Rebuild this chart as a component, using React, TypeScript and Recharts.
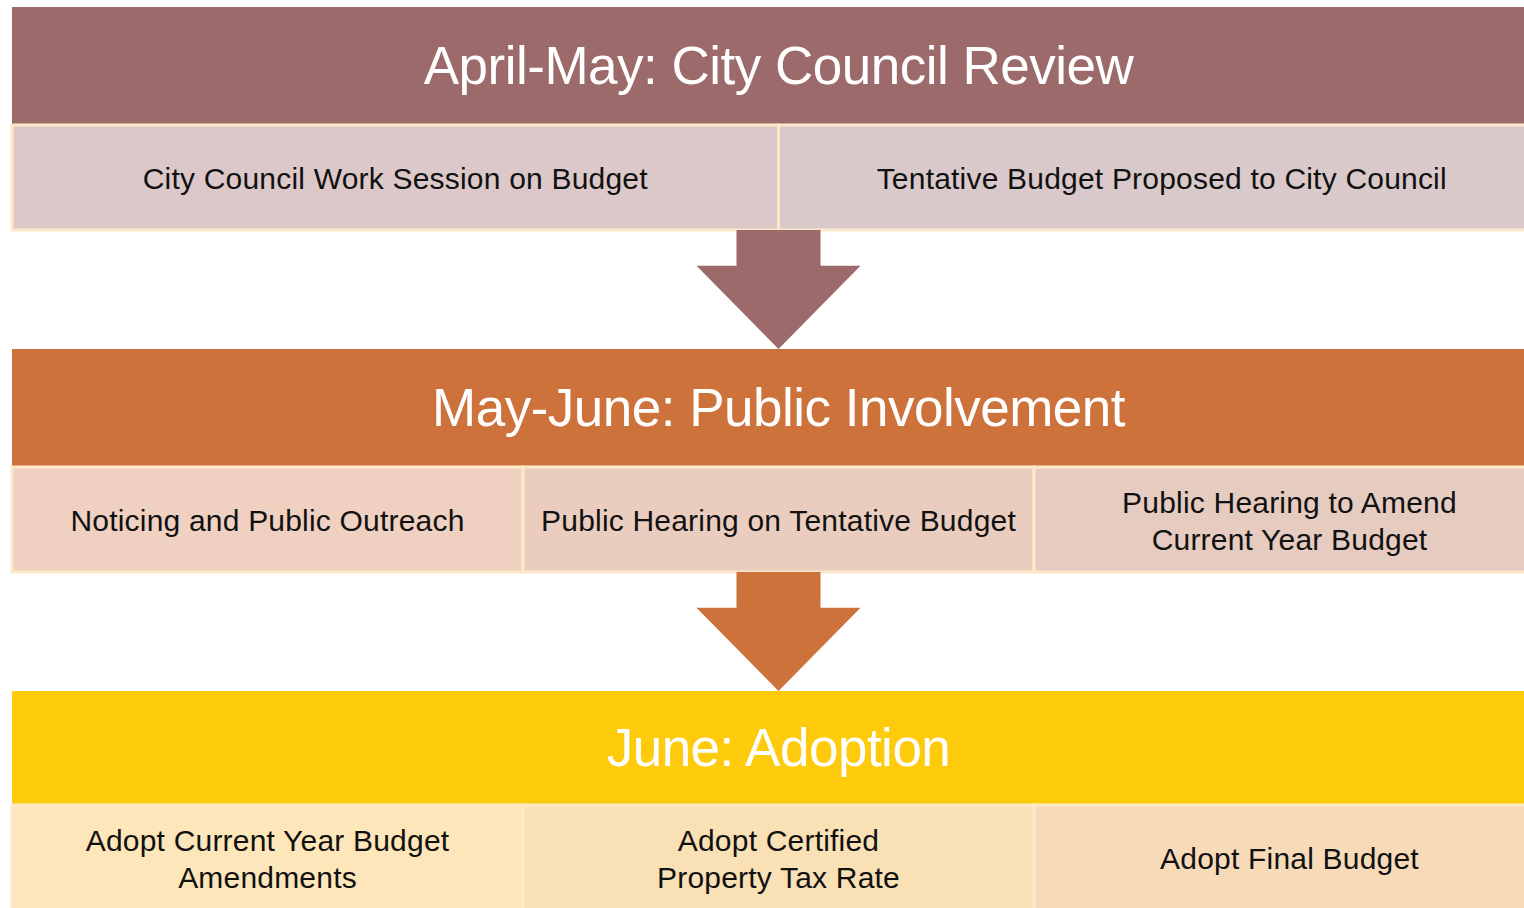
import React from "react";
import { ComposedChart, XAxis, YAxis, ReferenceArea } from "recharts";

// Budget calendar stages, top to bottom
const stageTitles = [
	"April-May: City Council Review",
	"May-June: Public Involvement",
	"June: Adoption",
];
const stageColors = ["#9c6a6a", "#cd723b", "#fdca0c"];

const stageItems = [
	["City Council Work Session on Budget", "Tentative Budget Proposed to City Council"],
	["Noticing and Public Outreach", "Public Hearing on Tentative Budget", "Public Hearing to Amend\nCurrent Year Budget"],
	["Adopt Current Year Budget\nAmendments", "Adopt Certified\nProperty Tax Rate", "Adopt Final Budget"],
];
const itemColors = [
	["#dcc8c8", "#d9c9ca"],
	["#efd0c1", "#eacdbf", "#e6cbc0"],
	["#fde6b9", "#fae0b5", "#f7dbb8"],
];

// layout (chart units: x 0..6 across, y in px from top)
const X_SPAN = 6;
const STAGE_TOPS = [7, 349, 691];
const HEADER_HEIGHTS = [118, 118, 114];
const ITEM_H = 105;
const ARROW_HALF = 0.321;
const BORDER = "#fde9c9";
const FONT = "'Liberation Sans', Arial, sans-serif";

const WIDTH = 1546;
const HEIGHT = 908;

function BoxShape(props: any) {
	const { x, y, width, height, fill, stroke, text, fontSize, color, spacing, offset } = props;
	const lines: string[] = String(text).split("\n");
	const lh = fontSize * 1.23;
	const cx = x + width / 2;
	const cy = y + height / 2 + offset;
	return (
		<g>
			<rect x={x} y={y} width={width} height={height} fill={fill} stroke={stroke} strokeWidth={stroke === "none" ? 0 : 3} />
			{lines.map((ln, i) => (
				<text
					key={i}
					x={cx}
					y={cy + (i - (lines.length - 1) / 2) * lh}
					textAnchor="middle"
					fill={color}
					fontSize={fontSize}
					fontFamily={FONT}
					letterSpacing={spacing}
				>
					{ln}
				</text>
			))}
		</g>
	);
}

function ArrowShape(props: any) {
	const { x, y, width, height, fill } = props;
	const cx = x + width / 2;
	const shaft = width * (84 / 164) / 2;
	const headY = y + height * 0.3;
	const pts = [
		[cx - shaft, y],
		[cx + shaft, y],
		[cx + shaft, headY],
		[x + width, headY],
		[cx, y + height],
		[x, headY],
		[cx - shaft, headY],
	]
		.map((p) => p.join(","))
		.join(" ");
	return <polygon points={pts} fill={fill} />;
}

export default function App() {
	return (
		<div style={{ position: "absolute", left: 0, top: 0, width: 1524, height: HEIGHT, overflow: "hidden", background: "#fff" }}>
			<ComposedChart width={WIDTH} height={HEIGHT} data={[]} margin={{ top: 0, right: 1, bottom: 0, left: 12 }}>
				<XAxis type="number" dataKey="x" domain={[0, X_SPAN]} allowDataOverflow hide />
				<YAxis type="number" dataKey="y" domain={[0, HEIGHT]} allowDataOverflow reversed hide />

				{stageTitles.map((title, i) => {
					const top = STAGE_TOPS[i];
					return (
						<ReferenceArea
							key={`h${i}`}
							x1={0}
							x2={X_SPAN}
							y1={top}
							y2={top + HEADER_HEIGHTS[i]}
							fill={stageColors[i]}
							fillOpacity={1}
							stroke="none"
							ifOverflow="visible"
							shape={(p: any) => (
								<BoxShape {...p} fill={stageColors[i]} stroke="none" text={title} fontSize={53} color="#fff" spacing={-0.5} offset={18} />
							)}
						/>
					);
				})}

				{stageItems.map((items, i) => {
					const top = STAGE_TOPS[i] + HEADER_HEIGHTS[i];
					const w = X_SPAN / items.length;
					return items.map((item, j) => (
						<ReferenceArea
							key={`c${i}-${j}`}
							x1={j * w}
							x2={(j + 1) * w}
							y1={top}
							y2={top + ITEM_H}
							fill={itemColors[i][j]}
							fillOpacity={1}
							ifOverflow="visible"
							shape={(p: any) => (
								<BoxShape {...p} fill={itemColors[i][j]} stroke={BORDER} text={item} fontSize={30} color="#111" spacing={0.2} offset={item.includes("\n") ? 12 : 11} />
							)}
						/>
					));
				})}

				{stageTitles.slice(0, -1).map((_, i) => {
					const from = STAGE_TOPS[i] + HEADER_HEIGHTS[i] + ITEM_H;
					return (
						<ReferenceArea
							key={`a${i}`}
							x1={X_SPAN / 2 - ARROW_HALF}
							x2={X_SPAN / 2 + ARROW_HALF}
							y1={from}
							y2={STAGE_TOPS[i + 1]}
							fill={stageColors[i]}
							fillOpacity={1}
							ifOverflow="visible"
							shape={(p: any) => <ArrowShape {...p} fill={stageColors[i]} />}
						/>
					);
				})}
			</ComposedChart>
		</div>
	);
}
